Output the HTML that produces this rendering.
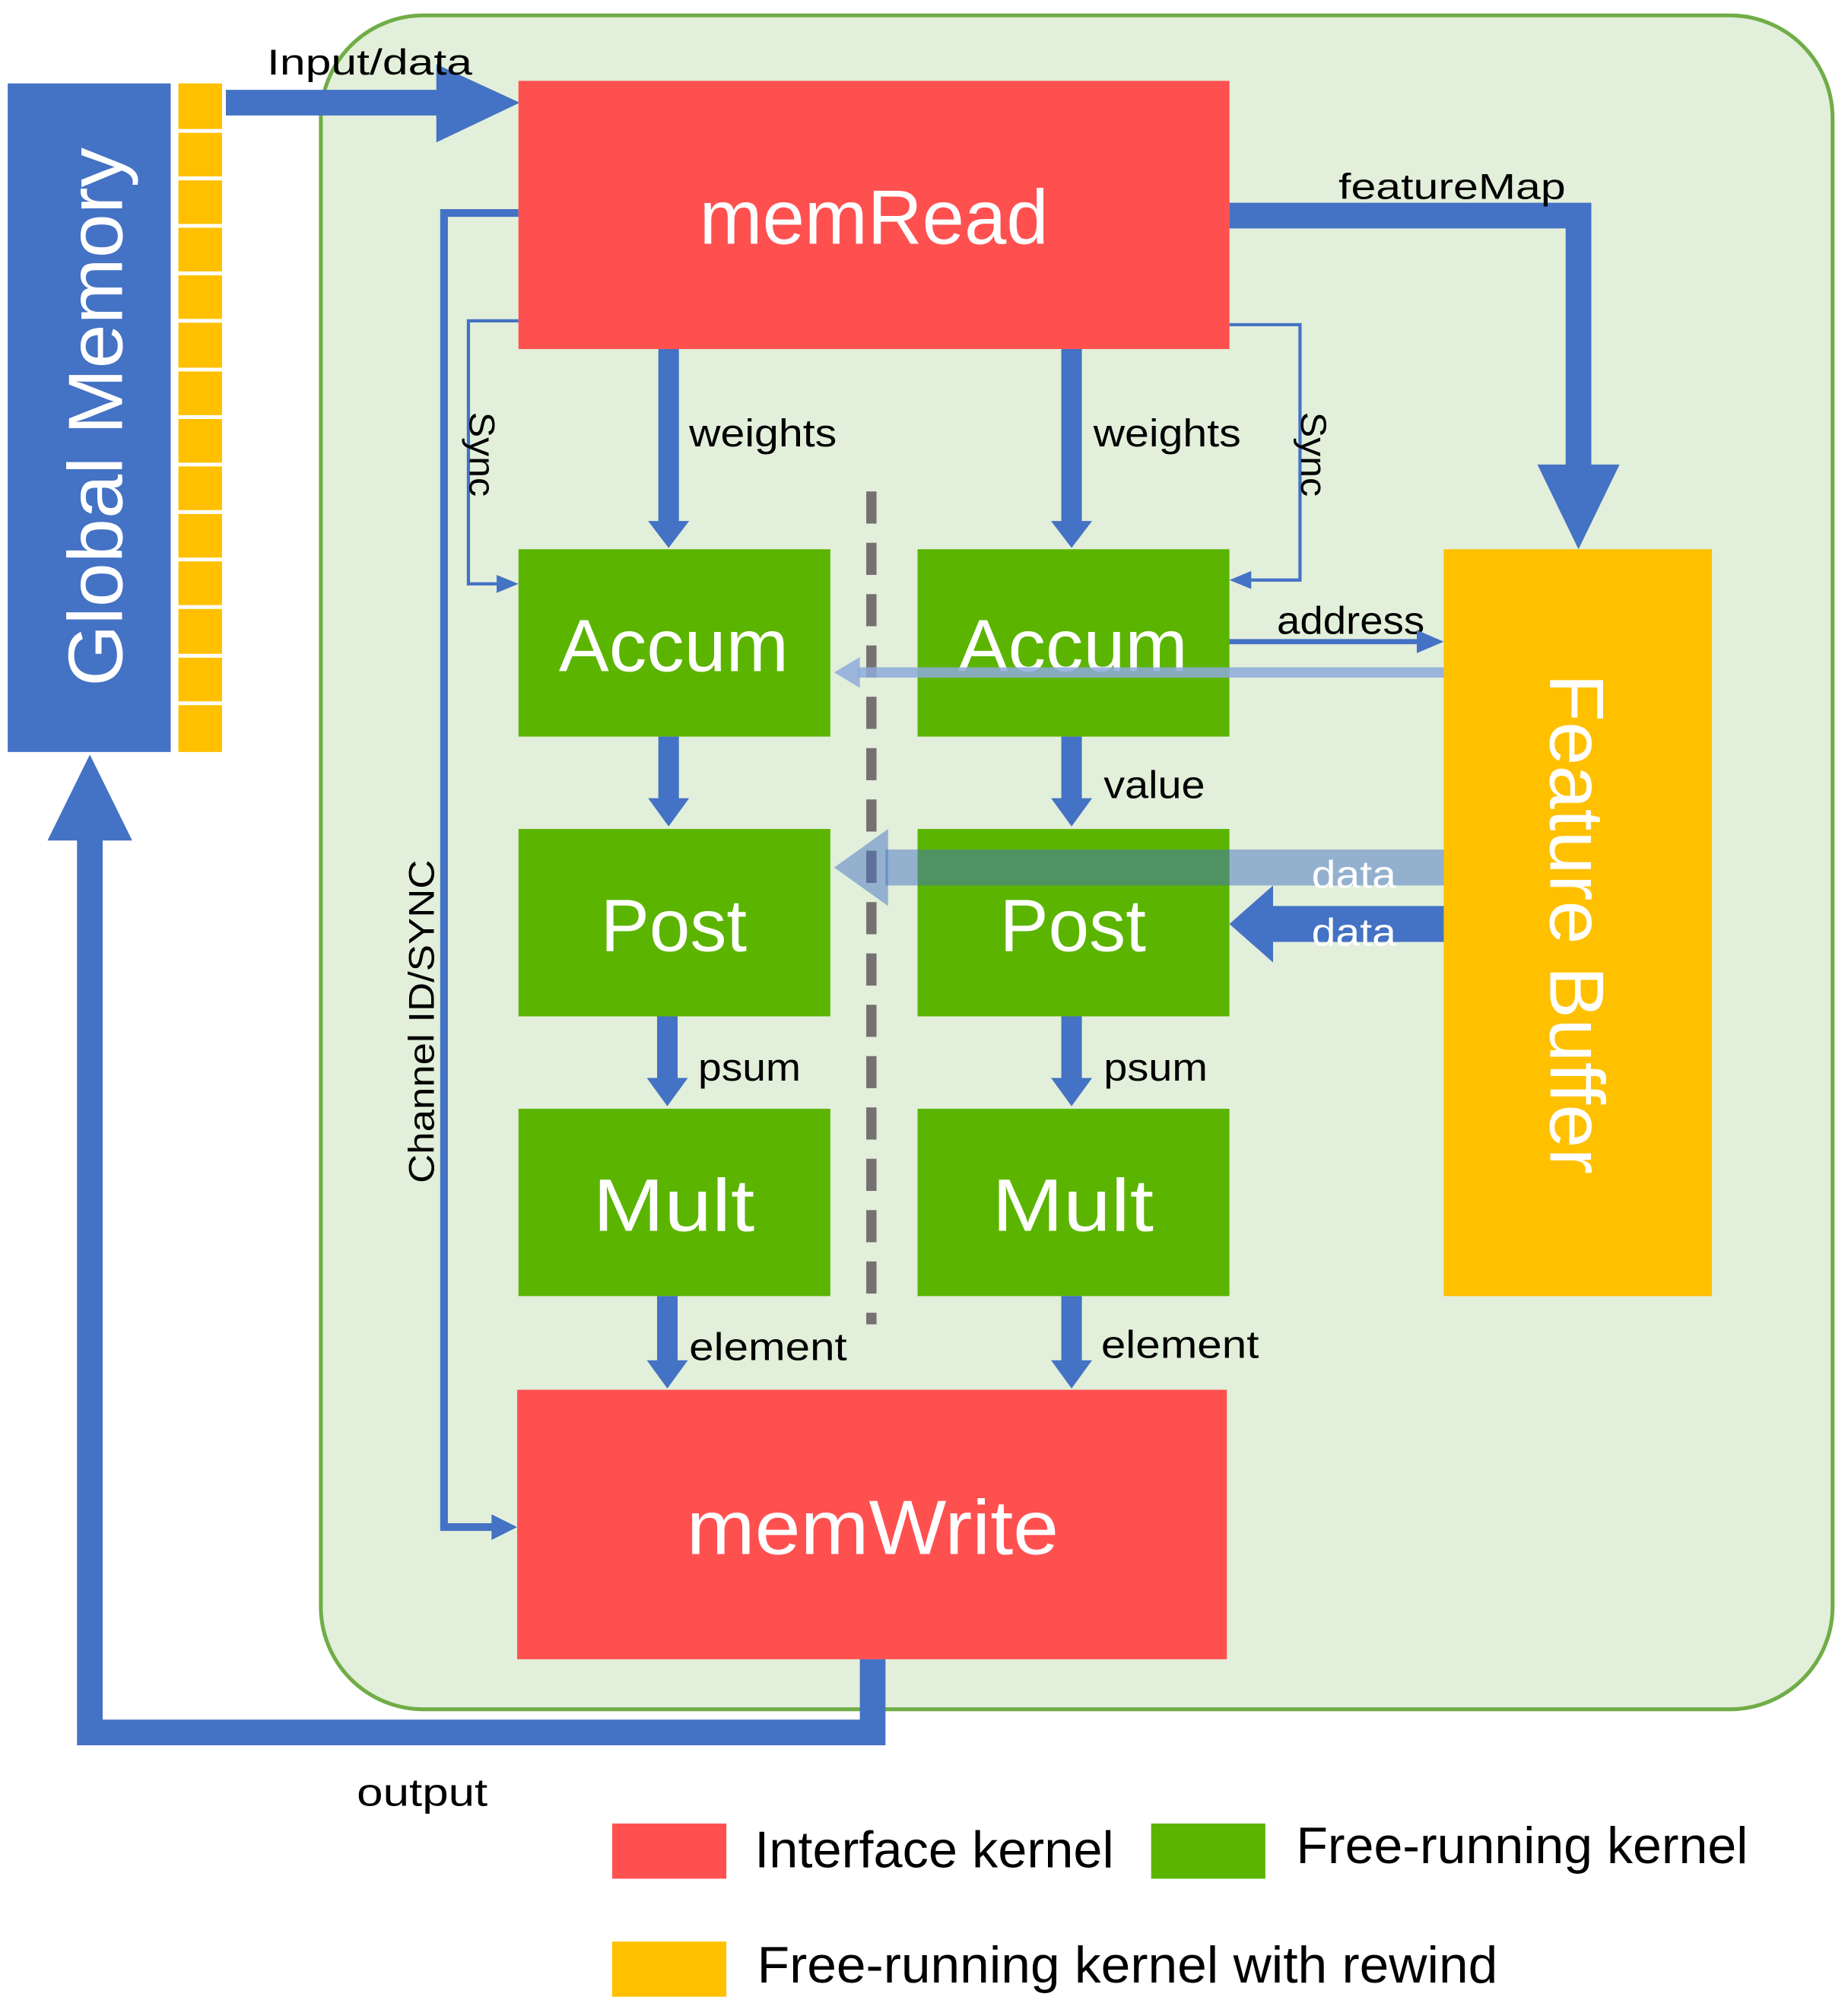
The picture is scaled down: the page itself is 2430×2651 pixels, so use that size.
<!DOCTYPE html>
<html><head><meta charset="utf-8"><style>
html,body{margin:0;padding:0;background:#fff;}
svg{display:block;}
text{font-family:"Liberation Sans",sans-serif;}
</style></head><body>
<svg width="2430" height="2651" viewBox="0 0 1440 1571" xmlns="http://www.w3.org/2000/svg">
<rect x="0" y="0" width="1440" height="1571" fill="#fff"/>
<rect x="250" y="12" width="1178" height="1320" rx="80" fill="#e2efda" stroke="#70ad47" stroke-width="3"/>
<rect x="6" y="65" width="127" height="521" fill="#4472c4"/>
<text transform="translate(95,325) rotate(-90)" text-anchor="middle" font-size="60" fill="#fff" textLength="420" lengthAdjust="spacingAndGlyphs">Global Memory</text>
<rect x="139" y="65" width="34" height="521" fill="#ffc000"/>
<g stroke="#fff" stroke-width="3">
<line x1="139" y1="102" x2="173" y2="102"/><line x1="139" y1="139" x2="173" y2="139"/><line x1="139" y1="176" x2="173" y2="176"/><line x1="139" y1="213" x2="173" y2="213"/><line x1="139" y1="250" x2="173" y2="250"/><line x1="139" y1="288" x2="173" y2="288"/><line x1="139" y1="325" x2="173" y2="325"/><line x1="139" y1="362" x2="173" y2="362"/><line x1="139" y1="399" x2="173" y2="399"/><line x1="139" y1="436" x2="173" y2="436"/><line x1="139" y1="473" x2="173" y2="473"/><line x1="139" y1="511" x2="173" y2="511"/><line x1="139" y1="548" x2="173" y2="548"/>
</g>
<line x1="176" y1="80" x2="342" y2="80" stroke="#4472c4" stroke-width="20"/>
<polygon points="340,50 405,80 340,111" fill="#4472c4"/>
<text x="208" y="58" font-size="28" textLength="160" lengthAdjust="spacingAndGlyphs">Input/data</text>
<polyline points="404,166 346,166 346,1190 385,1190" fill="none" stroke="#4472c4" stroke-width="6"/>
<polygon points="383,1180 403,1190 383,1200" fill="#4472c4"/>
<text transform="translate(338,796) rotate(-90)" text-anchor="middle" font-size="28" textLength="252" lengthAdjust="spacingAndGlyphs">Channel ID/SYNC</text>
<polyline points="404,250 365,250 365,455 390,455" fill="none" stroke="#4472c4" stroke-width="2.5"/>
<polygon points="387,448 404,455 387,462" fill="#4472c4"/>
<text transform="translate(366,354) rotate(90)" text-anchor="middle" font-size="28" textLength="66" lengthAdjust="spacingAndGlyphs">Sync</text>
<polyline points="958,253 1013,253 1013,452 972,452" fill="none" stroke="#4472c4" stroke-width="2.5"/>
<polygon points="975,445 958,452 975,459" fill="#4472c4"/>
<text transform="translate(1014,354) rotate(90)" text-anchor="middle" font-size="28" textLength="66" lengthAdjust="spacingAndGlyphs">Sync</text>
<polyline points="958,168 1230,168 1230,368" fill="none" stroke="#4472c4" stroke-width="20"/>
<polygon points="1198,362 1262,362 1230,428" fill="#4472c4"/>
<text x="1043" y="155" font-size="28" textLength="177" lengthAdjust="spacingAndGlyphs">featureMap</text>
<rect x="404" y="63" width="554" height="209" fill="#ff5050"/>
<text x="681" y="190" text-anchor="middle" font-size="60" fill="#fff" textLength="272" lengthAdjust="spacingAndGlyphs">memRead</text>
<rect x="1125" y="428" width="209" height="582" fill="#ffc000"/>
<text transform="translate(1208,720) rotate(90)" text-anchor="middle" font-size="60" fill="#fff" textLength="390" lengthAdjust="spacingAndGlyphs">Feature Buffer</text>
<g fill="#5bb400">
<rect x="404" y="428" width="243" height="146"/><rect x="715" y="428" width="243" height="146"/>
<rect x="404" y="646" width="243" height="146"/><rect x="715" y="646" width="243" height="146"/>
<rect x="404" y="864" width="243" height="146"/><rect x="715" y="864" width="243" height="146"/>
</g>
<g font-size="58" fill="#fff" text-anchor="middle">
<text x="525" y="523" textLength="179" lengthAdjust="spacingAndGlyphs">Accum</text><text x="836" y="523" textLength="179" lengthAdjust="spacingAndGlyphs">Accum</text>
<text x="525" y="741" textLength="114" lengthAdjust="spacingAndGlyphs">Post</text><text x="836" y="741" textLength="114" lengthAdjust="spacingAndGlyphs">Post</text>
<text x="525" y="959" textLength="126" lengthAdjust="spacingAndGlyphs">Mult</text><text x="836" y="959" textLength="126" lengthAdjust="spacingAndGlyphs">Mult</text>
</g>
<rect x="403" y="1083" width="553" height="210" fill="#ff5050"/>
<text x="680" y="1211" text-anchor="middle" font-size="60" fill="#fff" textLength="290" lengthAdjust="spacingAndGlyphs">memWrite</text>
<line x1="679" y1="383" x2="679" y2="1032" stroke="#767171" stroke-width="8" stroke-dasharray="25,15"/>
<g fill="#4472c4">
<rect x="513" y="272" width="16" height="136"/><polygon points="505,406 537,406 521,427"/>
<rect x="827" y="272" width="16" height="136"/><polygon points="819,406 851,406 835,427"/>
<rect x="513" y="574" width="16" height="50"/><polygon points="505,622 537,622 521,644"/>
<rect x="827" y="574" width="16" height="50"/><polygon points="819,622 851,622 835,644"/>
<rect x="512" y="792" width="16" height="50"/><polygon points="504,840 536,840 520,862"/>
<rect x="827" y="792" width="16" height="50"/><polygon points="819,840 851,840 835,862"/>
<rect x="512" y="1010" width="16" height="52"/><polygon points="504,1060 536,1060 520,1082"/>
<rect x="827" y="1010" width="16" height="52"/><polygon points="819,1060 851,1060 835,1082"/>
</g>
<g font-size="30">
<text x="537" y="348" textLength="115" lengthAdjust="spacingAndGlyphs">weights</text><text x="852" y="348" textLength="115" lengthAdjust="spacingAndGlyphs">weights</text>
<text x="860" y="622" textLength="79" lengthAdjust="spacingAndGlyphs">value</text>
<text x="544" y="842" textLength="80" lengthAdjust="spacingAndGlyphs">psum</text><text x="860" y="842" textLength="81" lengthAdjust="spacingAndGlyphs">psum</text>
<text x="537" y="1060" textLength="123" lengthAdjust="spacingAndGlyphs">element</text><text x="858" y="1058" textLength="123" lengthAdjust="spacingAndGlyphs">element</text>
<text x="995" y="494" textLength="115" lengthAdjust="spacingAndGlyphs">address</text>
<text x="278" y="1407" textLength="102" lengthAdjust="spacingAndGlyphs">output</text>
</g>
<line x1="958" y1="500" x2="1108" y2="500" stroke="#4472c4" stroke-width="4"/>
<polygon points="1104,491 1125,500 1104,509" fill="#4472c4"/>
<line x1="1125" y1="524" x2="668" y2="524" stroke="#8eaadb" stroke-width="8" opacity="0.85"/>
<polygon points="670,512 650,524 670,536" fill="#8eaadb" opacity="0.85"/>
<rect x="690" y="662" width="435" height="28" fill="#4472c4" opacity="0.5"/>
<polygon points="692,646 650,676 692,706" fill="#4472c4" opacity="0.5"/>
<text x="1022" y="692" font-size="30" fill="#fff" textLength="66" lengthAdjust="spacingAndGlyphs">data</text>
<rect x="990" y="706" width="135" height="28" fill="#4472c4"/>
<polygon points="992,690 958,720 992,750" fill="#4472c4"/>
<text x="1022" y="737" font-size="30" fill="#fff" textLength="66" lengthAdjust="spacingAndGlyphs">data</text>
<polyline points="680,1293 680,1350 70,1350 70,650" fill="none" stroke="#4472c4" stroke-width="20"/>
<polygon points="37,655 103,655 70,588" fill="#4472c4"/>
<rect x="477" y="1421" width="89" height="43" fill="#ff5050"/>
<text x="588" y="1455" font-size="40" textLength="280" lengthAdjust="spacingAndGlyphs">Interface kernel</text>
<rect x="897" y="1421" width="89" height="43" fill="#5bb400"/>
<text x="1010" y="1452" font-size="40" textLength="352" lengthAdjust="spacingAndGlyphs">Free-running kernel</text>
<rect x="477" y="1513" width="89" height="43" fill="#ffc000"/>
<text x="590" y="1545" font-size="40" textLength="577" lengthAdjust="spacingAndGlyphs">Free-running kernel with rewind</text>
</svg>
</body></html>
